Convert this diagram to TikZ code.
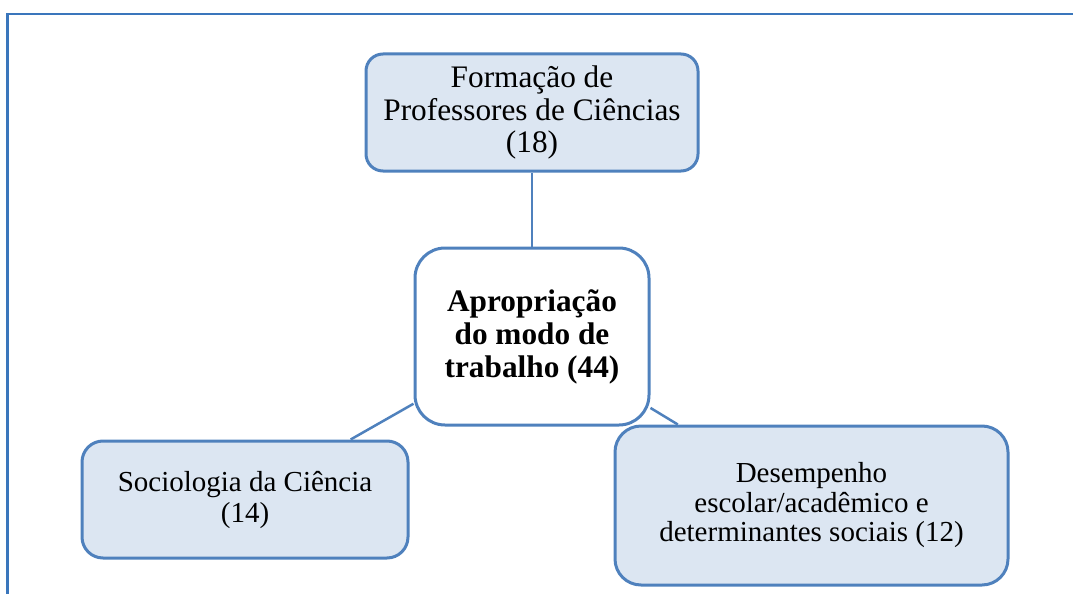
\documentclass[tikz,border=0pt]{standalone}
\usepackage{fontspec}
\setmainfont{Liberation Serif}
\definecolor{boxfill}{HTML}{DCE6F2}
\definecolor{boxline}{HTML}{4F81BD}
\definecolor{framecol}{HTML}{3A76BC}
\begin{document}
\begin{tikzpicture}[x=1pt,y=-1pt,
  boxnode/.style={draw=boxline, line width=3pt, fill=boxfill, align=center, inner sep=0pt},
  conn/.style={draw=boxline, line width=2.5pt}]
\useasboundingbox (0,0) rectangle (1073,594);
\draw[framecol, line width=2.5pt] (7.5,594) -- (7.5,14) -- (1073,14);
\node[boxnode, rounded corners=17pt, minimum width=332pt, minimum height=117pt,
  font=\fontsize{31.3}{32.5}\selectfont] (top) at (532,112.5)
  {Formação de\\Professores de Ciências\\(18)};
\node[boxnode, fill=white, rounded corners=30pt, minimum width=234pt, minimum height=177pt,
  font=\fontsize{31.3}{33}\selectfont\bfseries] (center) at (532,336.5)
  {Apropriação\\do modo de\\trabalho (44)};
\node[boxnode, rounded corners=21pt, minimum width=326pt, minimum height=117pt,
  font=\fontsize{29}{31}\selectfont] (left) at (245,499.5)
  {Sociologia da Ciência\\(14)};
\node[boxnode, rounded corners=26pt, minimum width=393pt, minimum height=159pt,
  font=\fontsize{29}{29.5}\selectfont] (right) at (811.5,505.5)
  {Desempenho\\escolar/acadêmico e\\determinantes sociais (12)};
\draw[conn] (top) -- (center);
\draw[conn] (center) -- (left);
\draw[conn] (center) -- (right);
\end{tikzpicture}
\end{document}
